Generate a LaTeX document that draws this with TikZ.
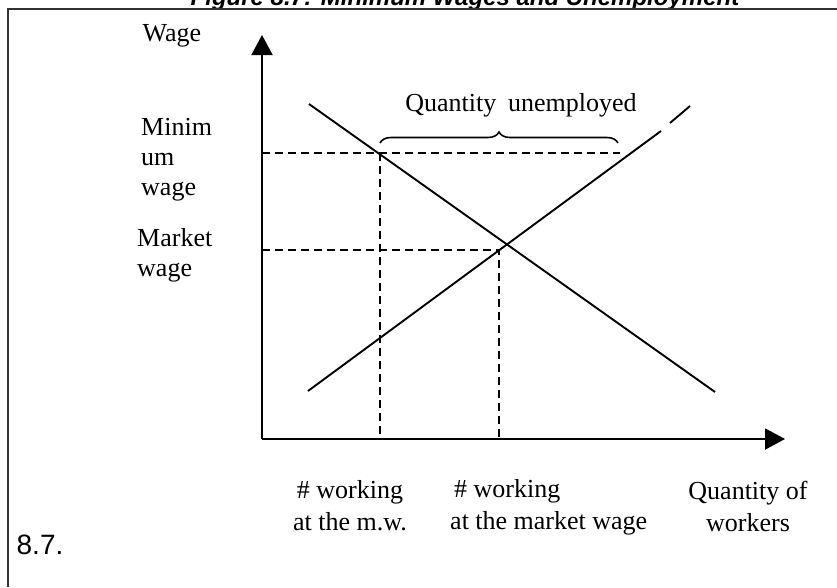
\documentclass[tikz,border=0pt]{standalone}
\usepackage{fontspec}
\setmainfont{Liberation Serif}
\setsansfont{Liberation Sans}
\usetikzlibrary{arrows.meta,decorations.pathreplacing}

\begin{document}
\begin{tikzpicture}[x=1pt, y=-1pt,
    axis/.style={line width=2pt, -{Triangle[length=20pt,width=21pt]}},
    curve/.style={line width=1.9pt},
    guide/.style={line width=1.8pt, dash pattern=on 8pt off 5pt},
    lbl/.style={inner sep=0pt, align=left, font=\fontsize{26}{30}\selectfont}
  ]
  \clip (0,0) rectangle (837,587);
  \fill[white] (0,0) rectangle (837,587);
  % frame and title
  \node[anchor=base, inner sep=0pt, font=\sffamily\bfseries\itshape\fontsize{24}{28}\selectfont] (title) at (465,5)
    {Figure 8.7: Minimum Wages and Unemployment};
  \coordinate (fl) at (8,587);
  \coordinate (ftl) at (8,9);
  \coordinate (ftr) at (837,9);
  \draw[line width=1.8pt, black!80] (fl) -- (ftl) -- (ftr);

  % axes
  \coordinate (O) at (262,439);
  \coordinate (ytip) at (262,35);
  \coordinate (xtip) at (785,439);
  \draw[axis] (O) -- (ytip);
  \draw[axis] (O) -- (xtip);

  % supply and demand
  \coordinate (s1) at (308,391);
  \coordinate (s2) at (661,131);
  \coordinate (s3) at (670,123);
  \coordinate (s4) at (690,106);
  \coordinate (d1) at (309,104);
  \coordinate (d2) at (715,392);
  \draw[curve] (s1) -- (s2);
  \draw[curve] (s3) -- (s4);
  \draw[curve] (d1) -- (d2);

  % minimum wage and market wage guides
  \coordinate (minL) at (262,153);
  \coordinate (minR) at (620,153);
  \coordinate (minD) at (380,153);
  \coordinate (minB) at (380,439);
  \coordinate (mktL) at (262,250);
  \coordinate (mktE) at (499,250);
  \coordinate (mktB) at (499,439);
  \draw[guide] (minL) -- (minR);
  \draw[guide] (minD) -- (minB);
  \draw[guide] (mktL) -- (mktE) -- (mktB);

  % unemployed gap
  \coordinate (brL) at (380,143);
  \coordinate (brR) at (618,143);
  \draw[line width=1.6pt, decorate, decoration={brace, amplitude=11pt}] (brL) -- (brR);
  \node[lbl] (unemp) at (521,105) {Quantity\hspace{0.45em}unemployed};

  % labels
  \node[lbl] (wage) at (172,36) {Wage};
  \node[lbl, anchor=west] (minw) at (141,160) {Minim\\um\\wage};
  \node[lbl, anchor=west] (mktw) at (137,255) {Market\\wage};
  \node[lbl, align=center, font=\fontsize{26}{32}\selectfont] (atmw) at (350,506) {\# working\\at the m.w.};
  \node[lbl, anchor=west, font=\fontsize{26}{32}\selectfont] (atmkt) at (450,507) {\hspace{4pt}\# working\\at the market wage};
  \node[lbl, align=center, font=\fontsize{26}{32}\selectfont] (qty) at (748,506) {Quantity of\\workers};
  \node[inner sep=0pt, font=\sffamily\fontsize{28}{32}\selectfont] (num) at (40,545) {8.7.};
\end{tikzpicture}
\end{document}
